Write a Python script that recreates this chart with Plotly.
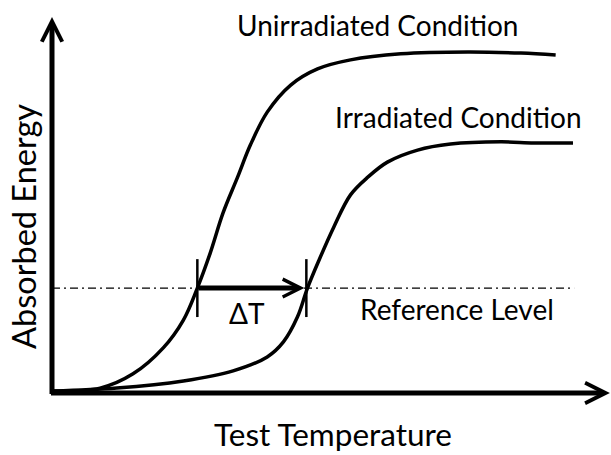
import plotly.graph_objects as go

# ---- data (arbitrary units: temperature 0-100, absorbed energy 0-100) ----
unirr_temp = [0.2, 8.6, 14.5, 19.9, 23.5, 26.0, 28.3, 30.6, 33.2, 35.5, 38.5, 42.7, 47.5, 53.4, 62.4, 74.4, 83.9, 90.1]
unirr_energy = [0.5, 1.3, 5.1, 12.0, 19.4, 27.9, 37.2, 47.9, 57.4, 66.0, 74.7, 81.9, 86.2, 88.6, 90.2, 90.7, 90.4, 89.9]

irr_temp = [0.2, 11.6, 23.5, 32.4, 38.5, 41.4, 43.9, 45.7, 47.7, 50.4, 53.4, 56.5, 60.0, 65.4, 71.3, 80.3, 86.2, 93.2]
irr_energy = [0.5, 1.3, 3.2, 5.9, 9.6, 13.6, 20.2, 27.9, 35.1, 44.1, 52.7, 57.4, 61.4, 64.6, 66.2, 66.8, 66.5, 66.5]

reference_level = 27.9
reference_span = [0.0, 93.4]
t_unirr_cross = 26.0
t_irr_cross = 45.5
tick_half = 7.7

labels = {
    "unirr": ("Unirradiated Condition", 58.3, 97.9),
    "irr": ("Irradiated Condition", 72.8, 73.4),
    "ref": ("Reference Level", 72.5, 22.3),
    "dT": ("ΔT", 34.9, 21.3),
}

FONT = "Lato"
fig = go.Figure()

# curves
fig.add_trace(go.Scatter(x=unirr_temp, y=unirr_energy, mode="lines",
                         line=dict(color="black", width=3.5, shape="spline", smoothing=1.0),
                         hoverinfo="skip"))
fig.add_trace(go.Scatter(x=irr_temp, y=irr_energy, mode="lines",
                         line=dict(color="black", width=3.5, shape="spline", smoothing=1.0),
                         hoverinfo="skip"))

# reference level line
fig.add_trace(go.Scatter(x=reference_span, y=[reference_level, reference_level], mode="lines",
                         line=dict(color="black", width=1.3, dash="8px,4px,2px,4px"),
                         hoverinfo="skip"))

# tick marks at crossing points
for t in (t_unirr_cross, t_irr_cross):
    fig.add_trace(go.Scatter(x=[t, t], y=[reference_level - tick_half, reference_level + tick_half],
                             mode="lines", line=dict(color="black", width=2.5), hoverinfo="skip"))

# Delta T arrow
fig.add_annotation(x=t_irr_cross, y=reference_level, ax=t_unirr_cross, ay=reference_level,
                   xref="x", yref="y", axref="x", ayref="y", text="", showarrow=True,
                   arrowhead=5, arrowsize=0.7, arrowwidth=5, arrowcolor="black", standoff=2)

# axis arrows
fig.add_annotation(x=0, y=100, ax=0, ay=-0.67, xref="x", yref="y", axref="x", ayref="y",
                   text="", showarrow=True, arrowhead=5, arrowsize=0.8, arrowwidth=5,
                   arrowcolor="black")
fig.add_annotation(x=99.8, y=0, ax=-0.45, ay=0, xref="x", yref="y", axref="x", ayref="y",
                   text="", showarrow=True, arrowhead=5, arrowsize=0.8, arrowwidth=5,
                   arrowcolor="black")

# text labels
for key, (txt, tx, ty) in labels.items():
    fig.add_annotation(x=tx, y=ty, xref="x", yref="y", text=txt, showarrow=False,
                       font=dict(family=FONT, size=28, color="black"),
                       xanchor="center", yanchor="middle")

# axis titles
fig.add_annotation(x=-0.052, y=0.444, xref="paper", yref="paper", text="Absorbed Energy",
                   textangle=-90, showarrow=False, font=dict(family=FONT, size=32.5, color="black"),
                   xanchor="center", yanchor="middle")
fig.add_annotation(x=0.503, y=-0.1635, xref="paper", yref="paper", text="Test Temperature",
                   showarrow=False, font=dict(family=FONT, size=31.5, color="black"),
                   xanchor="center", yanchor="bottom", borderpad=0)

fig.update_layout(
    width=611, height=455,
    margin=dict(l=52, r=0, t=17, b=62),
    paper_bgcolor="white", plot_bgcolor="white",
    showlegend=False,
    xaxis=dict(range=[0, 100], visible=False, fixedrange=True),
    yaxis=dict(range=[0, 100], visible=False, fixedrange=True),
)

fig.write_html("out.html", config={"displayModeBar": False},
               post_script="document.body.style.margin='0';document.body.style.overflow='hidden';")
